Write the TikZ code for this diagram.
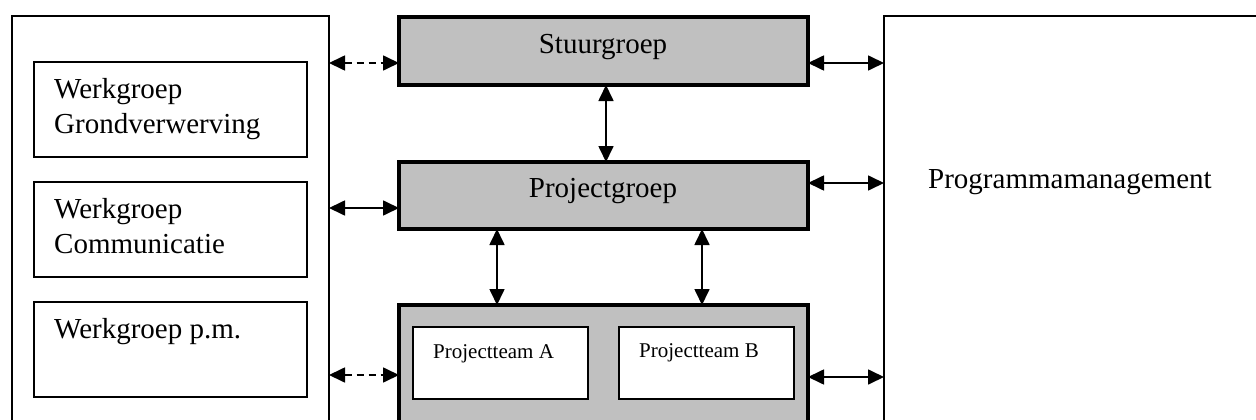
\documentclass[tikz,border=0pt]{standalone}
\usepackage{fontspec}
\setmainfont{Liberation Serif}
\usetikzlibrary{arrows.meta}
\definecolor{boxgray}{RGB}{192,192,192}
\begin{document}
\begin{tikzpicture}[x=1pt,y=-1pt,
  box/.style={draw, line width=2pt, fill=white, inner sep=0pt, outer sep=0pt, anchor=north west},
  outerbox/.style={draw, line width=2.5pt, fill=white, inner sep=0pt, outer sep=0pt, anchor=north west},
  graybox/.style={draw, line width=4pt, fill=boxgray, inner sep=0pt, outer sep=0pt, anchor=north west},
  big/.style={font=\fontsize{29}{35}\selectfont, align=left, inner sep=0pt, anchor=base west},
  bigc/.style={font=\fontsize{29}{35}\selectfont, inner sep=0pt, anchor=base},
  small/.style={font=\fontsize{21}{25}\selectfont, inner sep=0pt, anchor=base west},
  link/.style={line width=1.7pt, {Triangle[length=16pt,width=15pt]}-{Triangle[length=16pt,width=15pt]}},
  dlink/.style={link, dash pattern=on 7pt off 5pt}]
\useasboundingbox (0,0) rectangle (1256,420);
\clip (0,0) rectangle (1256,420);
% outer boxes
\node[outerbox, minimum width=317pt, minimum height=440pt] (left) at (12,16) {};
\node[outerbox, minimum width=400pt, minimum height=440pt] (right) at (884,16) {};
% werkgroepen
\node[box, minimum width=273pt, minimum height=95pt] (wg1) at (34,62) {};
\node[box, minimum width=273pt, minimum height=95pt] (wg2) at (34,182) {};
\node[box, minimum width=273pt, minimum height=95pt] (wg3) at (34,302) {};
\node[big] (t1) at (54,99) {Werkgroep};
\node[big] (t1b) at (54,133) {Grondverwerving};
\node[big] (t2) at (54,218) {Werkgroep};
\node[big] (t2b) at (54,253) {Communicatie};
\node[big] (t3) at (54,338) {Werkgroep p.m.};
% gray boxes
\node[graybox, minimum width=409pt, minimum height=68pt] (stuur) at (399,17) {};
\node[graybox, minimum width=409pt, minimum height=67pt] (proj) at (399,162) {};
\node[graybox, minimum width=409pt, minimum height=140pt] (teams) at (399,305) {};
\node[bigc] (ts) at (603,54) {Stuurgroep};
\node[bigc] (tp) at (603,197) {Projectgroep};
% projectteams
\node[box, minimum width=175pt, minimum height=72pt] (pa) at (413,327) {};
\node[box, minimum width=175pt, minimum height=72pt] (pb) at (619,327) {};
\node[small] (tpa) at (433,358) {Projectteam A};
\node[small] (tpb) at (639,357) {Projectteam B};
% programmamanagement
\node[big] (tpm) at (928,188) {Programmamanagement};
% connectors
\draw[dlink] (left.east |- 0,63) -- (stuur.west |- 0,63);
\draw[link] (left.east |- 0,208) -- (proj.west |- 0,208);
\draw[dlink] (left.east |- 0,375) -- (teams.west |- 0,375);
\draw[link] (stuur.east |- 0,63) -- (right.west |- 0,63);
\draw[link] (proj.east |- 0,183) -- (right.west |- 0,183);
\draw[link] (teams.east |- 0,377) -- (right.west |- 0,377);
\draw[link] (stuur.south -| 606,0) -- (proj.north -| 606,0);
\draw[link] (proj.south -| 497,0) -- (teams.north -| 497,0);
\draw[link] (proj.south -| 702,0) -- (teams.north -| 702,0);
\end{tikzpicture}
\end{document}
